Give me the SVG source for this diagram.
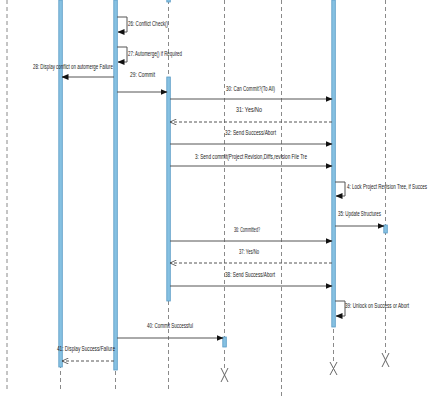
<svg xmlns="http://www.w3.org/2000/svg" width="432" height="405" viewBox="0 0 432 405">
<style>
.life{stroke:#8a8a8a;stroke-width:1;stroke-dasharray:4,3;fill:none}
.bar{fill:#86c1e2;stroke:#5a9cc6;stroke-width:0.8}
.msg{stroke:#555;stroke-width:1;fill:none}
.ret{stroke:#555;stroke-width:1;fill:none;stroke-dasharray:3,2}
.x{stroke:#666;stroke-width:1;fill:none}
text{font-family:"Liberation Sans",Arial,sans-serif;font-size:6.5px;fill:#222}
</style>
<defs>
<marker id="fa" markerWidth="7" markerHeight="6" refX="6.5" refY="3" orient="auto" markerUnits="userSpaceOnUse">
<path d="M0,0 L7,3 L0,6 Z" fill="#111"/>
</marker>
<marker id="oa" markerWidth="7" markerHeight="6" refX="6.5" refY="3" orient="auto" markerUnits="userSpaceOnUse">
<path d="M0,0 L6.5,3 L0,6" fill="none" stroke="#444" stroke-width="0.8"/>
</marker>
</defs>

<g id="lifeline0"><line class="life" x1="7" y1="0" x2="7" y2="390"/></g>
<g id="lifeline1"><line class="life" x1="60.5" y1="0" x2="60.5" y2="392"/><rect class="bar" x="58.8" y="0" width="3.5" height="367"/></g>
<g id="lifeline2"><line class="life" x1="115.5" y1="0" x2="115.5" y2="392"/><rect class="bar" x="113.8" y="0" width="3.5" height="370"/></g>
<g id="lifeline3"><line class="life" x1="168.5" y1="0" x2="168.5" y2="390"/><rect class="bar" x="166.8" y="-2" width="3.5" height="4"/><rect class="bar" x="166.8" y="77" width="3.5" height="224"/></g>
<g id="lifeline4"><line class="life" x1="224.5" y1="0" x2="224.5" y2="368"/><rect class="bar" x="222.8" y="337" width="3.5" height="10"/><path class="x" d="M221,368 L228,382 M228,368 L221,382"/></g>
<g id="lifeline5"><line class="life" x1="281.5" y1="0" x2="281.5" y2="396"/></g>
<g id="lifeline6"><line class="life" x1="333.5" y1="0" x2="333.5" y2="362"/><rect class="bar" x="331.8" y="0" width="3.5" height="327"/><path class="x" d="M330,362 L337,375 M337,362 L330,375"/></g>
<g id="lifeline7"><line class="life" x1="385.5" y1="0" x2="385.5" y2="353"/><rect class="bar" x="383.8" y="225" width="3.5" height="8"/><path class="x" d="M382,353 L389,367 M389,353 L382,367"/></g>

<g id="connectors">
<path class="msg" d="M117,17 H127 V32 H118" marker-end="url(#fa)"/>
<path class="msg" d="M117,47 H127 V62 H118" marker-end="url(#fa)"/>
<line class="msg" x1="114" y1="77" x2="62" y2="77" marker-end="url(#fa)"/>
<line class="msg" x1="117" y1="92" x2="167" y2="92" marker-end="url(#fa)"/>
<line class="msg" x1="170" y1="99" x2="332" y2="99" marker-end="url(#fa)"/>
<line class="ret" x1="332" y1="122" x2="170" y2="122" marker-end="url(#oa)"/>
<line class="msg" x1="170" y1="144" x2="332" y2="144" marker-end="url(#fa)"/>
<line class="msg" x1="170" y1="166" x2="332" y2="166" marker-end="url(#fa)"/>
<path class="msg" d="M335,182 H345 V196 H336" marker-end="url(#fa)"/>
<line class="msg" x1="335" y1="226" x2="384" y2="226" marker-end="url(#fa)"/>
<line class="msg" x1="170" y1="241" x2="332" y2="241" marker-end="url(#fa)"/>
<line class="ret" x1="332" y1="263" x2="170" y2="263" marker-end="url(#oa)"/>
<line class="msg" x1="170" y1="286" x2="332" y2="286" marker-end="url(#fa)"/>
<path class="msg" d="M335,301 H345 V316 H336" marker-end="url(#fa)"/>
<line class="msg" x1="117" y1="338" x2="223" y2="338" marker-end="url(#fa)"/>
<line class="ret" x1="114" y1="361" x2="62" y2="361" marker-end="url(#oa)"/>
</g>

<g id="labels">
<text x="128" y="26" textLength="40" lengthAdjust="spacingAndGlyphs">26: Conflict Check()</text>
<text x="128" y="56" textLength="54" lengthAdjust="spacingAndGlyphs">27: Automerge() if Required</text>
<text x="33" y="69" textLength="80" lengthAdjust="spacingAndGlyphs">28: Display conflict on automerge Failure</text>
<text x="130" y="77" textLength="25" lengthAdjust="spacingAndGlyphs">29: Commit</text>
<text x="226" y="91" textLength="49" lengthAdjust="spacingAndGlyphs">30: Can Commit?(To All)</text>
<text x="236" y="112" textLength="26" lengthAdjust="spacingAndGlyphs">31: Yes/No</text>
<text x="225" y="135" textLength="51" lengthAdjust="spacingAndGlyphs">32: Send Success/Abort</text>
<text x="195" y="159" textLength="112" lengthAdjust="spacingAndGlyphs">3: Send  commit(Project Revision,Diffs,revision File Tre</text>
<text x="347" y="189" textLength="80" lengthAdjust="spacingAndGlyphs">4: Lock Project Revision Tree, if Succes</text>
<text x="338" y="216" textLength="43" lengthAdjust="spacingAndGlyphs">35: Update Structures</text>
<text x="234" y="232" textLength="26" lengthAdjust="spacingAndGlyphs">36: Committed?</text>
<text x="239" y="254" textLength="20" lengthAdjust="spacingAndGlyphs">37: Yes/No</text>
<text x="225" y="277" textLength="50" lengthAdjust="spacingAndGlyphs">38: Send Success/Abort</text>
<text x="345" y="308" textLength="64" lengthAdjust="spacingAndGlyphs">39: Unlock on Success or Abort</text>
<text x="147" y="328" textLength="46" lengthAdjust="spacingAndGlyphs">40: Commit Successful</text>
<text x="57" y="351" textLength="58" lengthAdjust="spacingAndGlyphs">41: Display Success/Failure</text>
</g>
</svg>
